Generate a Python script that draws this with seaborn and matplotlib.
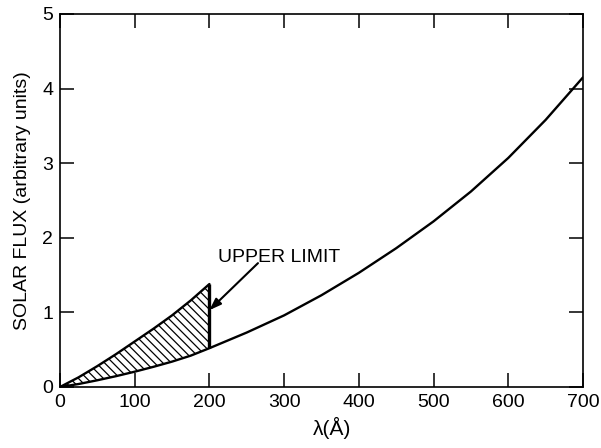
import matplotlib
matplotlib.use("Agg")
import matplotlib.pyplot as plt
import seaborn as sns
import pandas as pd

# Data
wavelength = [0, 25, 50, 75, 100, 125, 150, 175, 200,
              250, 300, 350, 400, 450, 500, 550, 600, 650, 700]
flux_lower = [0.0, 0.04, 0.09, 0.145, 0.205, 0.27, 0.34, 0.42, 0.52,
              0.73, 0.96, 1.23, 1.53, 1.86, 2.22, 2.62, 3.07, 3.58, 4.15]
wavelength_upper = [0, 25, 50, 75, 100, 125, 150, 175, 200]
flux_upper = [0.0, 0.13, 0.28, 0.44, 0.61, 0.78, 0.96, 1.16, 1.38]

x_ticks = [0, 100, 200, 300, 400, 500, 600, 700]
y_ticks = [0, 1, 2, 3, 4, 5]

lower_df = pd.DataFrame({"wl": wavelength, "flux": flux_lower})
upper_df = pd.DataFrame({"wl": wavelength_upper, "flux": flux_upper})
n_up = len(wavelength_upper)

sns.set_style("ticks")
plt.rcParams["font.family"] = ["Liberation Sans", "DejaVu Sans"]
plt.rcParams["text.color"] = "black"
plt.rcParams["axes.labelcolor"] = "black"
plt.rcParams["hatch.linewidth"] = 0.9
plt.rcParams["hatch.color"] = "black"

fig = plt.figure(figsize=(6.01, 4.48), dpi=100)
ax = fig.add_axes([0.0998, 0.1362, 0.8702, 0.8326])

# hatched band between the two curves
ax.fill_between(wavelength_upper, flux_lower[:n_up], flux_upper,
                facecolor="white", edgecolor="black", hatch="\\\\\\\\",
                linewidth=0)

sns.lineplot(data=lower_df, x="wl", y="flux", ax=ax, color="black", linewidth=1.7)
sns.lineplot(data=upper_df, x="wl", y="flux", ax=ax, color="black", linewidth=1.7)
ax.vlines(wavelength_upper[-1], flux_lower[n_up - 1], flux_upper[-1],
          color="black", linewidth=2.4)

ax.text(211, 1.68, "UPPER LIMIT", fontsize=14, ha="left", va="baseline")
ax.annotate("", xy=(200, 1.03), xytext=(265, 1.66),
            arrowprops=dict(arrowstyle="-|>,head_length=0.7,head_width=0.25",
                            color="black", lw=1.5, shrinkA=0, shrinkB=0))

ax.set_xlim(0, 700)
ax.set_ylim(0, 5)
ax.set_xticks(x_ticks)
ax.set_yticks(y_ticks)
ax.tick_params(direction="in", length=10, width=1.1, top=True, right=True,
               labelsize=14, pad=5, colors="black")
for s in ax.spines.values():
    s.set_visible(True)
    s.set_color("black")
    s.set_linewidth(1.2)

ax.set_xlabel("λ(Å)", fontsize=15)
ax.set_ylabel("SOLAR FLUX (arbitrary units)", fontsize=14)
ax.xaxis.set_label_coords(0.52, -0.08)
ax.yaxis.set_label_coords(-0.056, 0.5)

plt.savefig("out.png", dpi=100)
